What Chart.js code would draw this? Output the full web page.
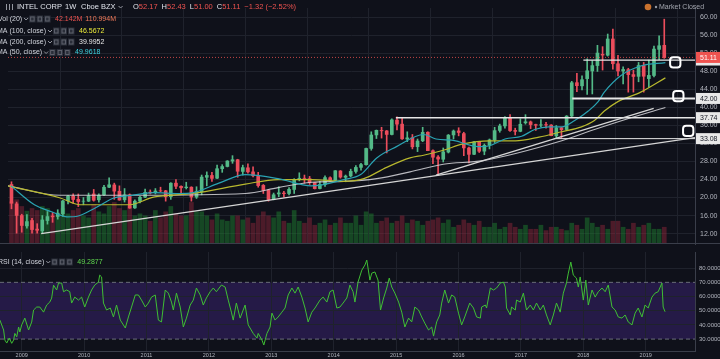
<!DOCTYPE html>
<html>
<head>
<meta charset="utf-8">
<script src="https://cdn.jsdelivr.net/npm/chart.js@4.4.1/dist/chart.umd.min.js"></script>
<style>
  html, body { margin: 0; padding: 0; background: #0f111a; }
  #wrap { position: relative; width: 720px; height: 359px; overflow: hidden; }
  #mainBox { position: absolute; left: 0; top: 0; width: 720px; height: 252px; }
  #rsiBox { position: absolute; left: 0; top: 252px; width: 720px; height: 107px; }
</style>
</head>
<body>
<div id="wrap">
  <div id="mainBox"><canvas id="mainChart"></canvas></div>
  <div id="rsiBox"><canvas id="rsiChart"></canvas></div>
</div>
<script>
// ---- data (INTC weekly, drawn here as monthly candles) ----
const firstMonth = { year: 2008, month: 9 };   // Sep 2008 .. Apr 2019
const yearTicks = [2009, 2010, 2011, 2012, 2013, 2014, 2015, 2016, 2017, 2018, 2019];
const priceTicks = [12, 16, 20, 24, 28, 32, 36, 40, 44, 48, 52, 56, 60];
const rsiTicks = [30, 40, 50, 60, 70, 80];

const opens = [
  22.9, 18.6, 16.0, 13.7,
  14.9, 13.0, 12.6, 14.9, 15.9, 15.8, 16.4, 19.3, 20.3, 19.6, 19.2, 19.2,
  20.8, 19.5, 20.6, 22.3, 22.8, 21.4, 19.5, 20.6, 17.7, 19.2, 20.1, 21.2,
  21.1, 21.5, 21.5, 20.2, 23.2, 22.5, 22.2, 22.3, 20.1, 21.3, 24.5, 24.9,
  24.3, 26.4, 26.9, 28.1, 28.4, 25.8, 26.6, 25.7, 24.8, 22.7, 21.6, 19.6,
  20.8, 21.0, 20.9, 21.8, 24.0, 24.3, 24.2, 23.3, 22.0, 22.9, 24.4, 23.8,
  25.9, 24.5, 24.8, 25.8, 26.7, 27.3, 30.9, 33.9, 34.9, 34.8, 34.0, 37.2,
  36.3, 33.0, 33.3, 31.3, 32.6, 34.5, 30.4, 29.0, 28.5, 30.1, 33.9, 34.8,
  34.2, 31.0, 29.6, 32.4, 30.3, 31.6, 32.8, 34.9, 35.9, 37.7, 34.9, 34.7,
  36.6, 36.8, 36.2, 36.1, 36.2, 36.1, 33.7, 35.5, 35.1, 38.1, 45.5, 44.8,
  46.4, 48.1, 49.3, 51.8, 51.6, 55.2, 49.7, 48.1, 48.4, 47.3, 46.9, 49.3,
  46.4, 47.1, 52.9, 53.8
];
const highs = [
  23.5, 19.0, 16.3, 16.2,
  15.4, 14.2, 16.0, 16.9, 16.7, 17.3, 19.4, 20.5, 20.8, 20.8, 20.0, 21.0,
  21.8, 20.8, 22.7, 24.4, 23.2, 22.6, 22.0, 20.8, 19.5, 20.3, 21.9, 21.7,
  22.0, 22.3, 21.6, 23.3, 24.0, 22.6, 23.4, 22.4, 22.4, 25.0, 25.7, 25.6,
  27.2, 27.3, 28.2, 29.3, 28.5, 27.2, 27.5, 26.8, 25.6, 22.9, 21.8, 21.0,
  22.4, 21.4, 22.2, 24.2, 25.5, 25.0, 24.7, 23.3, 23.6, 24.8, 24.6, 26.0,
  26.0, 25.0, 26.3, 27.1, 27.6, 31.0, 34.6, 35.0, 35.6, 34.9, 37.5, 37.9,
  37.7, 34.6, 34.0, 33.0, 35.6, 34.6, 30.6, 29.3, 31.0, 34.0, 35.0, 35.5,
  34.5, 31.2, 32.5, 32.5, 31.9, 33.0, 35.6, 36.3, 38.0, 38.4, 35.4, 37.5,
  38.4, 37.0, 36.3, 37.3, 36.7, 36.2, 36.0, 35.6, 38.2, 45.8, 47.6, 47.0,
  50.8, 50.4, 53.8, 53.5, 56.3, 57.4, 51.6, 49.0, 48.7, 48.3, 50.0, 50.0,
  50.5, 53.6, 55.9, 59.6
];
const lows = [
  17.5, 12.1, 12.3, 13.2,
  12.1, 12.1, 12.1, 14.1, 14.5, 15.2, 15.8, 18.6, 18.7, 18.0, 18.4, 19.1,
  19.2, 19.0, 20.4, 22.2, 19.6, 19.4, 19.0, 17.6, 17.6, 18.8, 20.0, 20.8,
  20.8, 21.3, 19.2, 19.6, 22.0, 21.0, 21.9, 19.2, 19.8, 20.6, 22.6, 23.6,
  24.2, 25.6, 26.8, 27.6, 24.5, 25.0, 25.4, 24.6, 22.3, 20.9, 19.2, 19.5,
  20.2, 20.1, 20.6, 20.9, 23.7, 23.2, 22.9, 21.9, 21.9, 22.5, 23.6, 23.6,
  24.3, 23.5, 24.6, 25.4, 26.1, 27.2, 30.5, 33.1, 33.2, 29.9, 33.9, 35.0,
  32.9, 32.4, 30.8, 30.2, 32.4, 30.4, 27.5, 24.9, 27.9, 29.9, 33.0, 33.7,
  29.3, 27.7, 29.5, 30.0, 29.5, 30.8, 32.2, 34.5, 35.4, 34.7, 33.9, 34.6,
  36.3, 35.3, 34.9, 35.7, 35.4, 33.7, 33.2, 33.2, 34.9, 37.8, 43.5, 43.9,
  42.9, 43.0, 48.0, 48.3, 51.4, 48.5, 47.0, 45.2, 43.4, 43.4, 45.7, 43.4,
  44.5, 46.8, 50.6, 50.9
];
const closes = [
  18.73, 16.03, 13.80, 14.66,
  12.90, 12.74, 15.03, 15.78, 15.72, 16.55, 19.25, 20.32, 19.57, 19.11, 19.20, 20.40,
  19.40, 20.53, 22.29, 22.83, 21.42, 19.45, 20.60, 17.67, 19.20, 20.07, 21.15, 21.03,
  21.46, 21.47, 20.18, 23.19, 22.51, 22.16, 22.33, 20.12, 21.33, 24.54, 24.91, 24.25,
  26.40, 26.88, 28.11, 28.40, 25.84, 26.65, 25.70, 24.84, 22.66, 21.62, 19.57, 20.62,
  21.04, 20.86, 21.83, 23.95, 24.28, 24.23, 23.30, 21.98, 22.92, 24.43, 23.83, 25.95,
  24.54, 24.76, 25.81, 26.69, 27.32, 30.90, 33.89, 34.92, 34.82, 34.01, 37.25, 36.29,
  33.04, 33.25, 31.27, 32.55, 34.47, 30.41, 28.95, 28.54, 30.14, 33.86, 34.77, 34.45,
  31.02, 29.59, 32.35, 30.28, 31.59, 32.80, 34.86, 35.89, 37.75, 34.87, 34.70, 36.27,
  36.82, 36.20, 36.07, 36.15, 36.11, 33.74, 35.47, 35.07, 38.08, 45.49, 44.84, 46.16,
  48.14, 49.29, 52.08, 51.62, 55.20, 49.71, 48.10, 48.43, 47.29, 46.88, 49.31, 46.93,
  47.12, 52.96, 53.70, 51.11
];
// average weekly volume per month, millions
const volumes = [
  315, 330, 280, 245,
  265, 250, 280, 265, 225, 210, 265, 225, 250, 265, 210, 195,
  295, 240, 225, 280, 310, 265, 250, 280, 210, 225, 210, 170,
  250, 195, 240, 280, 225, 210, 210, 310, 240, 240, 210, 180,
  225, 180, 170, 210, 210, 180, 195, 155, 210, 240, 210, 195,
  240, 170, 155, 250, 170, 155, 195, 140, 155, 180, 140, 155,
  195, 155, 155, 210, 140, 240, 225, 155, 170, 195, 155, 170,
  210, 155, 180, 170, 140, 170, 180, 195, 155, 180, 125, 140,
  180, 155, 140, 170, 125, 125, 155, 110, 125, 155, 125, 110,
  140, 110, 110, 140, 100, 125, 125, 110, 100, 155, 140, 110,
  195, 155, 125, 140, 110, 170, 170, 125, 110, 155, 125, 140,
  155, 110, 110, 125
];

// moving averages, [decimal year, price]
const ma50 = [[2008.70,22.6],[2009.08,18.4],[2009.37,16.8],[2009.61,15.7],[2009.79,15.9],[2010.08,17.8],
  [2010.37,19.9],[2010.66,20.5],[2011.01,21.1],[2011.42,20.9],[2011.65,21.1],[2012.07,23.2],[2012.50,25.1],
  [2013.03,24.2],[2013.57,22.6],[2014.10,24.0],[2014.37,25.1],[2014.63,28.8],[2014.95,31.3],[2015.39,34.0],
  [2015.59,33.0],[2015.91,32.6],[2016.07,31.9],[2016.30,31.3],[2016.46,31.5],[2016.71,33.0],[2016.98,33.6],
  [2017.19,35.1],[2017.42,35.7],[2017.63,35.7],[2017.84,37.1],[2018.06,39.2],[2018.22,41.3],[2018.32,43.4],
  [2018.59,47.1],[2018.91,49.2],[2019.31,49.96]];
const ma100 = [[2008.65,22.6],[2009.50,19.9],[2009.82,18.4],[2010.62,18.4],[2011.01,20.1],[2011.65,20.9],
  [2012.50,23.0],[2013.03,24.0],[2013.57,24.0],[2014.10,23.6],[2014.42,24.2],[2014.79,26.7],[2015.17,28.8],
  [2015.39,29.4],[2015.71,30.5],[2016.03,31.9],[2016.46,32.6],[2016.88,32.6],[2017.26,33.4],[2017.63,34.6],
  [2017.95,35.7],[2018.16,37.1],[2018.32,39.2],[2018.54,41.3],[2018.91,43.4],[2019.31,46.57]];
const ma200 = [[2008.65,22.6],[2009.50,20.5],[2010.79,20.5],[2012.50,20.9],[2013.03,22.2],[2013.57,23.4],
  [2014.10,23.6],[2014.63,24.2],[2015.17,25.7],[2015.71,27.4],[2016.35,28.2],[2017.63,32.6],[2018.16,35.1],
  [2018.70,37.5],[2019.31,40.0]];

// RSI(14), [decimal year, value]
const rsi = [
  [2008.65,43.4],[2008.71,36.4],[2008.73,29.3],[2008.76,27.2],[2008.80,30.7],[2008.84,27],[2008.87,29.3],
  [2008.89,34],[2008.92,31.6],[2008.95,38.5],[2008.97,35],[2009.00,40],[2009.05,44.8],[2009.11,36.4],
  [2009.16,42],[2009.19,50.5],[2009.24,52.6],[2009.29,52.6],[2009.35,49],[2009.40,54],[2009.45,56.1],
  [2009.48,58.9],[2009.51,68],[2009.56,64.6],[2009.59,69.5],[2009.64,69.5],[2009.67,63.4],[2009.72,64.6],
  [2009.77,63.4],[2009.80,55.4],[2009.85,59.6],[2009.91,57.5],[2009.96,59.6],[2010.01,52.6],[2010.07,59.6],
  [2010.12,64.6],[2010.17,68.1],[2010.23,70.2],[2010.25,75.1],[2010.28,73.8],[2010.31,55.4],[2010.36,50.5],
  [2010.42,51.9],[2010.47,45.6],[2010.52,54],[2010.58,43.4],[2010.66,37.8],[2010.71,45.6],[2010.76,52.6],
  [2010.82,61.1],[2010.87,61.1],[2010.92,57.5],[2010.98,52.6],[2011.03,55.4],[2011.08,59.6],[2011.14,61.1],
  [2011.19,43.4],[2011.24,42.1],[2011.30,64.6],[2011.35,62.4],[2011.40,56.1],[2011.43,50.5],[2011.48,62.4],
  [2011.54,52.6],[2011.59,38.5],[2011.64,44.8],[2011.70,54],[2011.75,57.5],[2011.80,66],[2011.86,61.1],
  [2011.91,54],[2011.96,59],[2012.02,63.4],[2012.07,66],[2012.12,63.4],[2012.20,68.1],[2012.26,66.7],
  [2012.31,57.5],[2012.36,49],[2012.39,43.4],[2012.44,55.4],
  [2012.50,44.8],[2012.58,54],[2012.63,40],[2012.71,34],[2012.77,30.7],[2012.79,34],[2012.85,29.3],
  [2012.88,25.8],[2012.93,34],[2012.98,38.5],[2013.01,48.3],[2013.06,43.4],[2013.11,45.6],[2013.17,49],
  [2013.22,51.9],[2013.27,61.1],[2013.33,66],[2013.38,62.4],[2013.43,66.7],[2013.49,59.6],[2013.54,51.9],
  [2013.59,42.1],[2013.65,49],[2013.70,51.9],[2013.78,57.5],[2013.83,59.6],[2013.89,56.1],[2013.94,63.4],
  [2013.99,64.6],[2014.05,51.9],[2014.10,52.6],[2014.15,55.4],[2014.21,59],[2014.26,68.1],[2014.31,63.4],
  [2014.34,56.1],[2014.39,70.2],[2014.45,78.6],[2014.50,82.2],[2014.53,85.7],[2014.58,71.6],[2014.61,76.5],
  [2014.66,77.3],[2014.71,71.6],[2014.75,50.5],[2014.80,59],[2014.85,66],[2014.89,73],[2014.93,66.7],
  [2014.98,62.4],[2015.04,56.1],[2015.09,49],[2015.14,38.5],[2015.20,44.8],[2015.25,42.1],[2015.30,52.6],
  [2015.36,50.5],[2015.41,45.6],[2015.46,41.2],[2015.52,36.4],[2015.57,38.5],[2015.60,32.1],[2015.65,42.1],
  [2015.70,47],[2015.73,55.4],[2015.78,64.6],[2015.84,55.4],[2015.89,61.1],[2015.94,59.6],[2016.00,48.3],
  [2016.05,40],[2016.10,45.6],[2016.18,55.4],[2016.24,51.9],[2016.29,45.6],
  [2016.35,44.8],[2016.37,52.6],[2016.43,54],[2016.45,51.9],[2016.51,66],[2016.56,64.6],[2016.61,66],
  [2016.67,69.5],[2016.72,70.2],[2016.75,66.7],[2016.77,51.9],[2016.83,47],[2016.85,52.6],[2016.91,50.5],
  [2016.93,57.5],[2016.99,56.1],[2017.04,62.4],[2017.09,50.5],[2017.15,54],[2017.20,50.5],[2017.25,55.4],
  [2017.31,50.5],[2017.36,54],[2017.41,47],[2017.47,40],[2017.52,47],[2017.57,55.4],[2017.63,49],
  [2017.68,62.4],[2017.73,69.5],[2017.76,76.5],[2017.80,84.3],[2017.84,75.1],[2017.89,73],[2017.92,66.7],
  [2017.95,73.8],[2018.00,57.5],[2018.04,71.6],[2018.08,54],[2018.14,64.6],[2018.19,59.6],[2018.24,63.4],
  [2018.30,66],[2018.35,63.4],[2018.40,68.1],[2018.46,52.6],[2018.51,50.5],[2018.56,45.6],[2018.62,44.8],
  [2018.67,47],[2018.72,42.1],[2018.78,40],[2018.83,48.3],[2018.88,51.9],[2018.94,45.6],[2018.99,54],
  [2019.04,51.9],[2019.10,59.6],[2019.15,62.4],[2019.20,63.4],[2019.26,69.5],[2019.28,52.6],[2019.31,49.29]
];
const rsiBands = [30, 70];

// user drawings on the chart
const longTrend = [[2009.19, 12.0], [2019.79, 33.3]];
const lowTrend = [[2015.59, 25.0], [2019.12, 39.8]];
const levelPrices = [50.53, 42.00, 37.74, 33.08];
const levelStarts = [2017.98, 2017.80, 2014.94, 2017.50];
const levelWidths = [1.3, 2, 1.5, 1];
const markers = [[2019.47, 50.0], [2019.52, 42.5], [2019.68, 34.8]];
const lastClose = 51.11;

// ---- layout ----
const xMin = 2008.652, xMax = 2019.79;
const BG = '#0f111a', GRID = '#1f222c', AXIS = '#3a3e4a', TXT = '#b2b5be';
const UP = '#53b987', DOWN = '#eb4d5c';
const FONT = '"Liberation Sans", Arial, sans-serif';

const monthTime = i => firstMonth.year + (firstMonth.month - 1 + i + 0.5) / 12;
const isUp = closes.map((c, i) => c >= opens[i]);
const pts = arr => arr.map(p => ({ x: p[0], y: p[1] }));

function chevron(ctx, x, y) {
  ctx.strokeStyle = '#9598a1'; ctx.lineWidth = 1;
  ctx.beginPath(); ctx.moveTo(x, y - 1); ctx.lineTo(x + 2, y + 1); ctx.lineTo(x + 4, y - 1); ctx.stroke();
}
function iconBoxes(ctx, x, y) {
  for (let k = 0; k < 3; k++) {
    ctx.fillStyle = '#2a2e39'; ctx.fillRect(x + k * 7.5, y - 3.5, 6.5, 7);
    ctx.strokeStyle = '#5d606b'; ctx.lineWidth = 1; ctx.strokeRect(x + k * 7.5 + 1.5, y - 2, 3.5, 4);
  }
}
function put(ctx, s, x, y, color) {
  ctx.fillStyle = color; ctx.fillText(s, x, y);
  return x + ctx.measureText(s).width;
}
function indicatorRow(ctx, label, x, y, values) {
  ctx.font = '7px ' + FONT;
  let e = put(ctx, label, x, y, '#d1d4dc');
  chevron(ctx, e + 2, y);
  iconBoxes(ctx, e + 7, y);
  let vx = e + 33;
  values.forEach(v => { vx = put(ctx, v[0], vx, y, v[1]) + 3; });
}

const mainDecor = {
  id: 'mainDecor',
  beforeDraw(chart) {
    const ctx = chart.ctx;
    ctx.save(); ctx.fillStyle = BG; ctx.fillRect(0, 0, chart.width, chart.height); ctx.restore();
  },
  afterDraw(chart) {
    const ctx = chart.ctx, a = chart.chartArea, y = chart.scales.y;
    ctx.save();
    // pane separator
    ctx.strokeStyle = AXIS; ctx.lineWidth = 1;
    ctx.beginPath(); ctx.moveTo(0, a.bottom - 0.5); ctx.lineTo(chart.width, a.bottom - 0.5); ctx.stroke();
    // price labels on the axis
    ctx.font = '7px ' + FONT; ctx.textBaseline = 'middle';
    const tag = (price, fill, color) => {
      const py = y.getPixelForValue(price);
      ctx.fillStyle = fill; ctx.fillRect(a.right + 1, py - 5.5, chart.width - a.right - 1, 11);
      ctx.fillStyle = color; ctx.fillText(price.toFixed(2), a.right + 5, py + 0.5);
    };
    levelPrices.forEach(p => tag(p, '#e8e8e8', '#131722'));
    tag(lastClose, '#ef5350', '#ffffff');
    // legend
    ctx.textBaseline = 'middle';
    ctx.strokeStyle = '#9598a1'; ctx.lineWidth = 1;
    for (let k = 0; k < 3; k++) { ctx.beginPath(); ctx.moveTo(6.5 + k * 3, 4); ctx.lineTo(6.5 + k * 3, 10); ctx.stroke(); }
    ctx.font = '7.5px ' + FONT;
    put(ctx, 'INTEL CORP', 17, 7, '#e0e3eb');
    put(ctx, '1W', 65, 7, '#e0e3eb');
    const e = put(ctx, 'Cboe BZX', 81, 7, '#e0e3eb');
    chevron(ctx, e + 3, 7);
    let x = 133;
    [['O', '52.17'], ['H', '52.43'], ['L', '51.00'], ['C', '51.11']].forEach(q => {
      x = put(ctx, q[0], x, 7, '#e0e3eb');
      x = put(ctx, q[1], x, 7, '#ef5350') + 4;
    });
    put(ctx, '\u22121.32 (\u22122.52%)', x, 7, '#ef5350');
    indicatorRow(ctx, 'Vol (20)', -2, 19, [['42.142M', '#ef5350'], ['110.994M', '#f07a5a']]);
    indicatorRow(ctx, 'MA (100, close)', -3, 31, [['46.5672', '#eaea3a']]);
    indicatorRow(ctx, 'MA (200, close)', -3, 42, [['39.9952', '#e6e6e6']]);
    indicatorRow(ctx, 'MA (50, close)', -3, 52.5, [['49.9618', '#3dd3e0']]);
    // market status
    ctx.fillStyle = '#c9722e'; ctx.beginPath(); ctx.arc(648, 7, 3.3, 0, Math.PI * 2); ctx.fill();
    ctx.fillStyle = '#9598a1'; ctx.beginPath(); ctx.arc(656, 7, 1.2, 0, Math.PI * 2); ctx.fill();
    ctx.font = '7px ' + FONT;
    put(ctx, 'Market Closed', 659, 7, '#a3a6af');
    ctx.restore();
  }
};

const rsiDecor = {
  id: 'rsiDecor',
  beforeDraw(chart) {
    const ctx = chart.ctx, a = chart.chartArea, y = chart.scales.y;
    ctx.save();
    ctx.fillStyle = BG; ctx.fillRect(0, 0, chart.width, chart.height);
    const top = y.getPixelForValue(rsiBands[1]), bot = y.getPixelForValue(rsiBands[0]);
    ctx.fillStyle = '#251a47'; ctx.fillRect(a.left, top, a.right - a.left, bot - top);
    ctx.restore();
  },
  afterDraw(chart) {
    const ctx = chart.ctx;
    ctx.save();
    ctx.textBaseline = 'middle';
    indicatorRow(ctx, 'RSI (14, close)', -2, 10, [['49.2877', '#5fd84e']]);
    ctx.restore();
  }
};

const xScale = (showLabels) => ({
  type: 'linear', min: xMin, max: xMax, offset: false,
  afterBuildTicks: s => { s.ticks = yearTicks.map(v => ({ value: v })); },
  afterFit: s => { s.height = showLabels ? 8 : 0; s.paddingLeft = 0; s.paddingRight = 0; },
  grid: { color: GRID, drawTicks: false },
  border: { display: showLabels, color: AXIS },
  ticks: { display: showLabels, color: TXT, font: { size: 5.5, family: FONT }, padding: 1,
           maxRotation: 0, autoSkip: false, callback: v => String(v) }
});

const priceAxis = {
  position: 'right', min: 9.69, max: 62.08,
  afterBuildTicks: s => { s.ticks = priceTicks.map(v => ({ value: v })); },
  afterFit: s => { s.width = 25; s.paddingTop = 0; s.paddingBottom = 0; },
  grid: { color: GRID, drawTicks: false },
  border: { display: true, color: AXIS },
  ticks: { color: TXT, font: { size: 7, family: FONT }, padding: 5, callback: v => Number(v).toFixed(2) }
};

const seg = (from, to, y) => [{ x: from, y: y }, { x: to, y: y }];
const lineDs = (data, color, width, order, extra) => Object.assign({
  type: 'line', data: data, borderColor: color, borderWidth: width, pointRadius: 0, order: order
}, extra || {});

const mainDatasets = [
  { type: 'bar', yAxisID: 'yVol', grouped: false, order: 10, barThickness: 4,
    data: volumes.map((v, i) => ({ x: monthTime(i), y: v })),
    backgroundColor: isUp.map(u => u ? 'rgba(30,125,45,0.5)' : 'rgba(150,40,60,0.45)') },
  { type: 'bar', grouped: false, order: 6, barThickness: 1,
    data: lows.map((l, i) => ({ x: monthTime(i), y: [l, highs[i]] })),
    backgroundColor: isUp.map(u => u ? UP : DOWN) },
  { type: 'bar', grouped: false, order: 5, barThickness: 3,
    data: opens.map((o, i) => ({ x: monthTime(i), y: [o, closes[i]] })),
    backgroundColor: isUp.map(u => u ? UP : DOWN) },
  lineDs(pts(ma200), 'rgba(215,215,220,0.85)', 1.1, 4, { cubicInterpolationMode: 'monotone' }),
  lineDs(pts(ma100), '#b8b82e', 1.2, 3, { cubicInterpolationMode: 'monotone' }),
  lineDs(pts(ma50), '#2aa3b3', 1.2, 2, { cubicInterpolationMode: 'monotone' }),
  lineDs(pts(longTrend), '#d6d6d6', 1.3, 1),
  lineDs(pts(lowTrend), '#d6d6d6', 1.3, 1),
  lineDs(seg(xMin, xMax, lastClose), 'rgba(239,83,80,0.8)', 1, 1, { borderDash: [1, 2] })
];
levelPrices.forEach((p, k) => {
  mainDatasets.push(lineDs(seg(levelStarts[k], xMax, p), '#e6e6e6', levelWidths[k], 1));
});
mainDatasets.push({
  type: 'scatter', data: pts(markers), order: 0, pointStyle: 'rectRounded', pointRadius: 6,
  borderColor: '#ffffff', borderWidth: 2, backgroundColor: 'rgba(0,0,0,0)'
});

new Chart(document.getElementById('mainChart'), {
  type: 'line',
  data: { datasets: mainDatasets },
  options: {
    responsive: true, maintainAspectRatio: false, animation: false,
    layout: { padding: 0 },
    plugins: { legend: { display: false }, tooltip: { enabled: false } },
    scales: {
      x: xScale(false),
      y: priceAxis,
      yVol: { display: false, min: 0, max: 1760 }
    }
  },
  plugins: [mainDecor]
});

new Chart(document.getElementById('rsiChart'), {
  type: 'line',
  data: {
    datasets: [
      lineDs(pts(rsi), '#3fbf34', 1, 1),
      lineDs(seg(xMin, xMax, rsiBands[1]), '#6a6d78', 1, 2, { borderDash: [4, 3] }),
      lineDs(seg(xMin, xMax, rsiBands[0]), '#6a6d78', 1, 2, { borderDash: [4, 3] })
    ]
  },
  options: {
    responsive: true, maintainAspectRatio: false, animation: false,
    layout: { padding: 0 },
    plugins: { legend: { display: false }, tooltip: { enabled: false } },
    scales: {
      x: xScale(true),
      y: {
        position: 'right', min: 21.6, max: 91.4,
        afterBuildTicks: s => { s.ticks = rsiTicks.map(v => ({ value: v })); },
        afterFit: s => { s.width = 25; s.paddingTop = 0; s.paddingBottom = 0; },
        grid: { color: c => rsiBands.includes(c.tick && c.tick.value) ? 'rgba(0,0,0,0)' : GRID, drawTicks: false },
        border: { display: true, color: AXIS },
        ticks: { color: TXT, font: { size: 6, family: FONT }, padding: 4, callback: v => Number(v).toFixed(4) }
      }
    }
  },
  plugins: [rsiDecor]
});
</script>
</body>
</html>
